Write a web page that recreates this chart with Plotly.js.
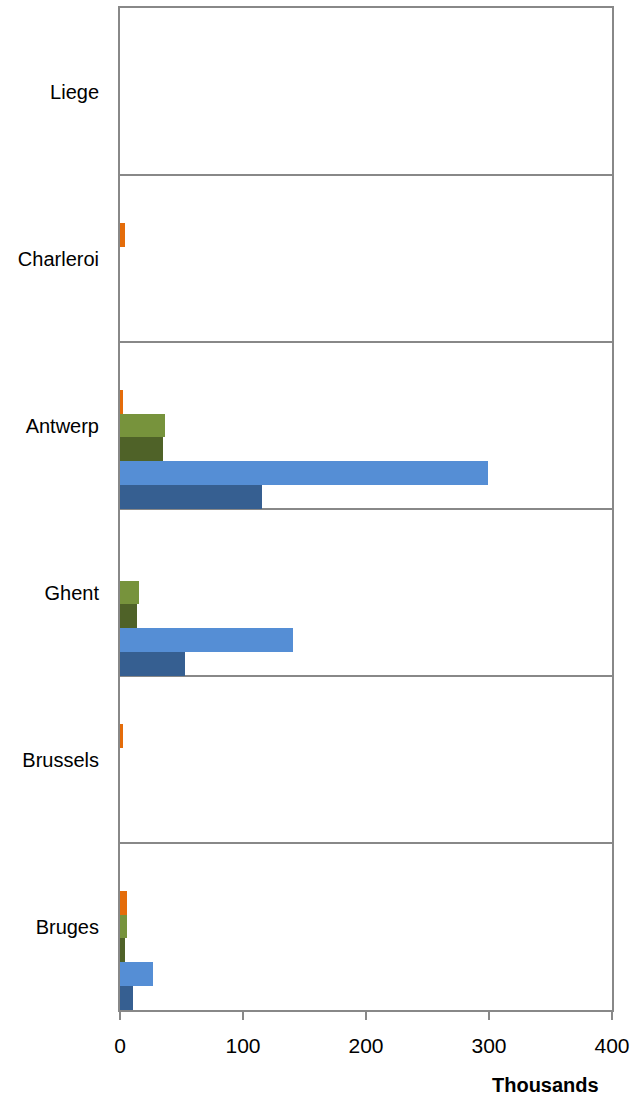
<!DOCTYPE html>
<html>
<head>
<meta charset="utf-8">
<script src="https://cdn.plot.ly/plotly-3.0.1.min.js"></script>
<style>html,body{margin:0;padding:0;background:#fff;}#chart{width:639px;height:1101px;}</style>
</head>
<body>
<div id="chart"></div>
<script>
const categories = ['Bruges', 'Brussels', 'Ghent', 'Antwerp', 'Charleroi', 'Liege'];
const seriesNames = ['Series 1', 'Series 2', 'Series 3', 'Series 4', 'Series 5'];
const series1 = [10.3, 0, 52.6, 115.7, 0, 0];
const series2 = [26.6, 0, 140.4, 299.0, 0, 0];
const series3 = [4.0, 0, 13.5, 34.7, 0, 0];
const series4 = [5.7, 0, 15.5, 36.3, 0, 0];
const series5 = [5.7, 2.4, 0, 2.4, 4.0, 0];
const xTickVals = [0, 100, 200, 300, 400];

const values = [series1, series2, series3, series4, series5];
const colors = ['#365F91', '#558ED5', '#4F6228', '#77933C', '#E46C0A'];
const slots = 7;

const traces = values.map((v, i) => ({
  type: 'bar',
  orientation: 'h',
  name: seriesNames[i],
  y: categories,
  x: v,
  width: 1 / slots,
  offset: -0.5 + i / slots,
  marker: {color: colors[i], line: {width: 0}},
  hoverinfo: 'x+y+name'
}));

const layout = {
  width: 639,
  height: 1101,
  margin: {l: 120, r: 27, t: 8, b: 91},
  paper_bgcolor: '#ffffff',
  plot_bgcolor: '#ffffff',
  barmode: 'overlay',
  bargap: 0,
  showlegend: false,
  font: {family: 'Liberation Sans, Arial, sans-serif', color: '#000000'},
  xaxis: {
    range: [0, 400],
    tickvals: xTickVals,
    ticktext: xTickVals.map(String),
    showgrid: false,
    zeroline: false,
    showline: true,
    linecolor: '#888888',
    linewidth: 2,
    mirror: true,
    ticks: 'outside',
    ticklen: 8,
    tickwidth: 2,
    tickcolor: '#888888',
    ticklabelstandoff: 8,
    tickfont: {size: 21, family: 'Liberation Sans, Arial, sans-serif', color: '#000000'}
  },
  yaxis: {
    type: 'category',
    categoryorder: 'array',
    categoryarray: categories,
    range: [-0.5, categories.length - 0.5],
    tickson: 'boundaries',
    showgrid: true,
    gridcolor: '#888888',
    gridwidth: 2,
    showline: true,
    linecolor: '#888888',
    linewidth: 2,
    mirror: true,
    ticks: '',
    zeroline: false,
    ticklabelstandoff: 15,
    tickfont: {size: 20, family: 'Liberation Sans, Arial, sans-serif', color: '#000000'}
  },
  annotations: [{
    text: '<b>Thousands</b>',
    xref: 'paper', yref: 'paper',
    x: 0.865, y: -0.075,
    xanchor: 'center', yanchor: 'middle',
    showarrow: false,
    font: {size: 20, family: 'Liberation Sans, Arial, sans-serif', color: '#000000'}
  }]
};

Plotly.newPlot('chart', traces, layout, {displayModeBar: false, staticPlot: true});
</script>
</body>
</html>
